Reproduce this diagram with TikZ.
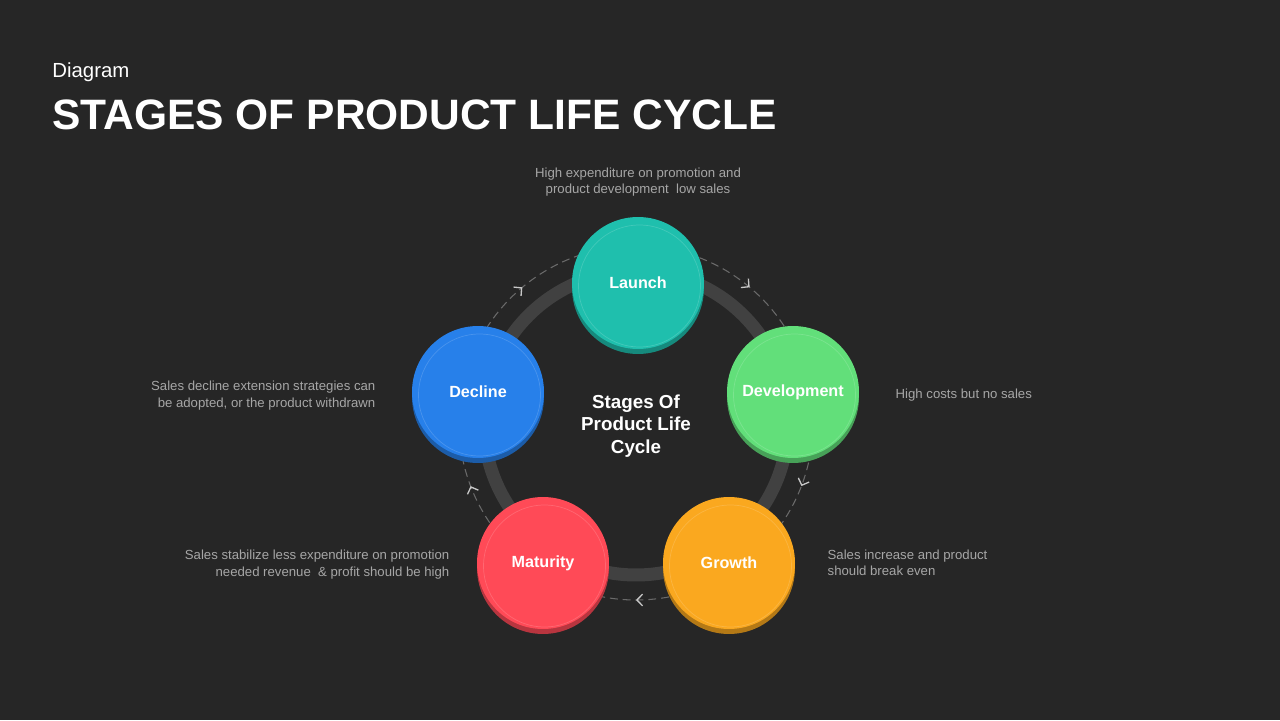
\documentclass[tikz,border=0pt]{standalone}
\usepackage{fontspec}
\setmainfont{Liberation Sans}
\usepackage{xcolor}
\usepackage{tikz}
\usetikzlibrary{positioning, calc, shadows, arrows.meta, decorations.markings}
\definecolor{BgColor}{HTML}{262626}
\definecolor{LaunchColor}{HTML}{1FBFAD}
\definecolor{DevColor}{HTML}{62DF7A}
\definecolor{GrowthColor}{HTML}{FAA81F}
\definecolor{MaturityColor}{HTML}{FF4A57}
\definecolor{DeclineColor}{HTML}{2780EA}
\definecolor{RingColor}{HTML}{414141}
\definecolor{DashColor}{HTML}{6A6A6A}
\definecolor{ChevColor}{HTML}{C8C8C8}
\definecolor{NoteColor}{HTML}{A6A6A6}
\tikzset{
    stage/.style={
        circle,
        minimum size=2.64cm,
        inner sep=0pt,
        fill=#1,
        text=white,
        font=\fontsize{9.2}{11}\selectfont\bfseries,
        general shadow={fill=#1!72!black, shadow yshift=-0.1cm},
        path picture={\draw[white, opacity=0.16, line width=0.4pt]
            ([shift={(0.03cm,-0.06cm)}]path picture bounding box.center) circle (1.22cm);}
    },
    note/.style={font=\fontsize{7.5}{9.4}\selectfont, text=NoteColor, inner sep=0pt},
    ring/.style={draw=RingColor, line width=0.26cm},
    chevron/.style={ChevColor, line width=0.75pt},
    cycleflow/.style={
        draw=DashColor,
        line width=0.6pt,
        dash pattern=on 4.5pt off 2.8pt,
        postaction={decorate},
        decoration={markings,
            mark=at position 0.139 with {\arrowreversed[chevron]{Straight Barb[length=3.2pt, width=6.6pt]}},
            mark=at position 0.361 with {\arrowreversed[chevron]{Straight Barb[length=3.2pt, width=6.6pt]}},
            mark=at position 0.558 with {\arrowreversed[chevron]{Straight Barb[length=3.2pt, width=6.6pt]}},
            mark=at position 0.750 with {\arrowreversed[chevron]{Straight Barb[length=3.2pt, width=6.6pt]}},
            mark=at position 0.942 with {\arrowreversed[chevron]{Straight Barb[length=3.2pt, width=6.6pt]}}
        }
    }
}

\begin{document}
\begin{tikzpicture}[x=0.02cm, y=0.02cm]

% Background
\fill[BgColor] (0,0) rectangle (1280,720);

% Title
\node[anchor=base west, inner sep=0pt, text=white, font=\fontsize{11.6}{14}\selectfont] (n_kicker) at (52,642) {Diagram};
\node[anchor=base west, inner sep=0pt, text=white, font=\fontsize{24.2}{28}\selectfont\bfseries] (n_title) at (52,590) {STAGES OF PRODUCT LIFE CYCLE};

\coordinate (hub) at (636,297);

% Rings
\draw[ring] (hub) circle (152);
\draw[cycleflow] (hub) circle (177);

% Stages
\node[stage=LaunchColor] (n_launch) at (638,437) {Launch};
\node[stage=DevColor] (n_dev) at (793,328) {Development};
\node[stage=GrowthColor] (n_growth) at (729,157) {Growth};
\node[stage=MaturityColor] (n_maturity) at (543,157) {Maturity};
\node[stage=DeclineColor] (n_decline) at (478,328) {Decline};

% Centre
\node[text=white, align=center, font=\fontsize{10.7}{12.8}\selectfont\bfseries] (n_centre) at ($(hub)+(0,-3)$) {Stages Of\\Product Life\\Cycle};

% Notes
\node[note, align=center, above=0.4cm of n_launch] (t_launch) {High expenditure on promotion and\\product development~ low sales};
\node[note, align=left, right=0.72cm of n_dev, yshift=-2] (t_dev) {High costs but no sales};
\node[note, align=left, right=0.64cm of n_growth] (t_growth) {Sales increase and product\\should break even};
\node[note, align=right, left=0.54cm of n_maturity, yshift=-1] (t_maturity) {Sales stabilize less expenditure on promotion\\needed revenue~ \& profit should be high};
\node[note, align=right, left=0.72cm of n_decline, yshift=-2] (t_decline) {Sales decline extension strategies can\\be adopted, or the product withdrawn};

\end{tikzpicture}
\end{document}
